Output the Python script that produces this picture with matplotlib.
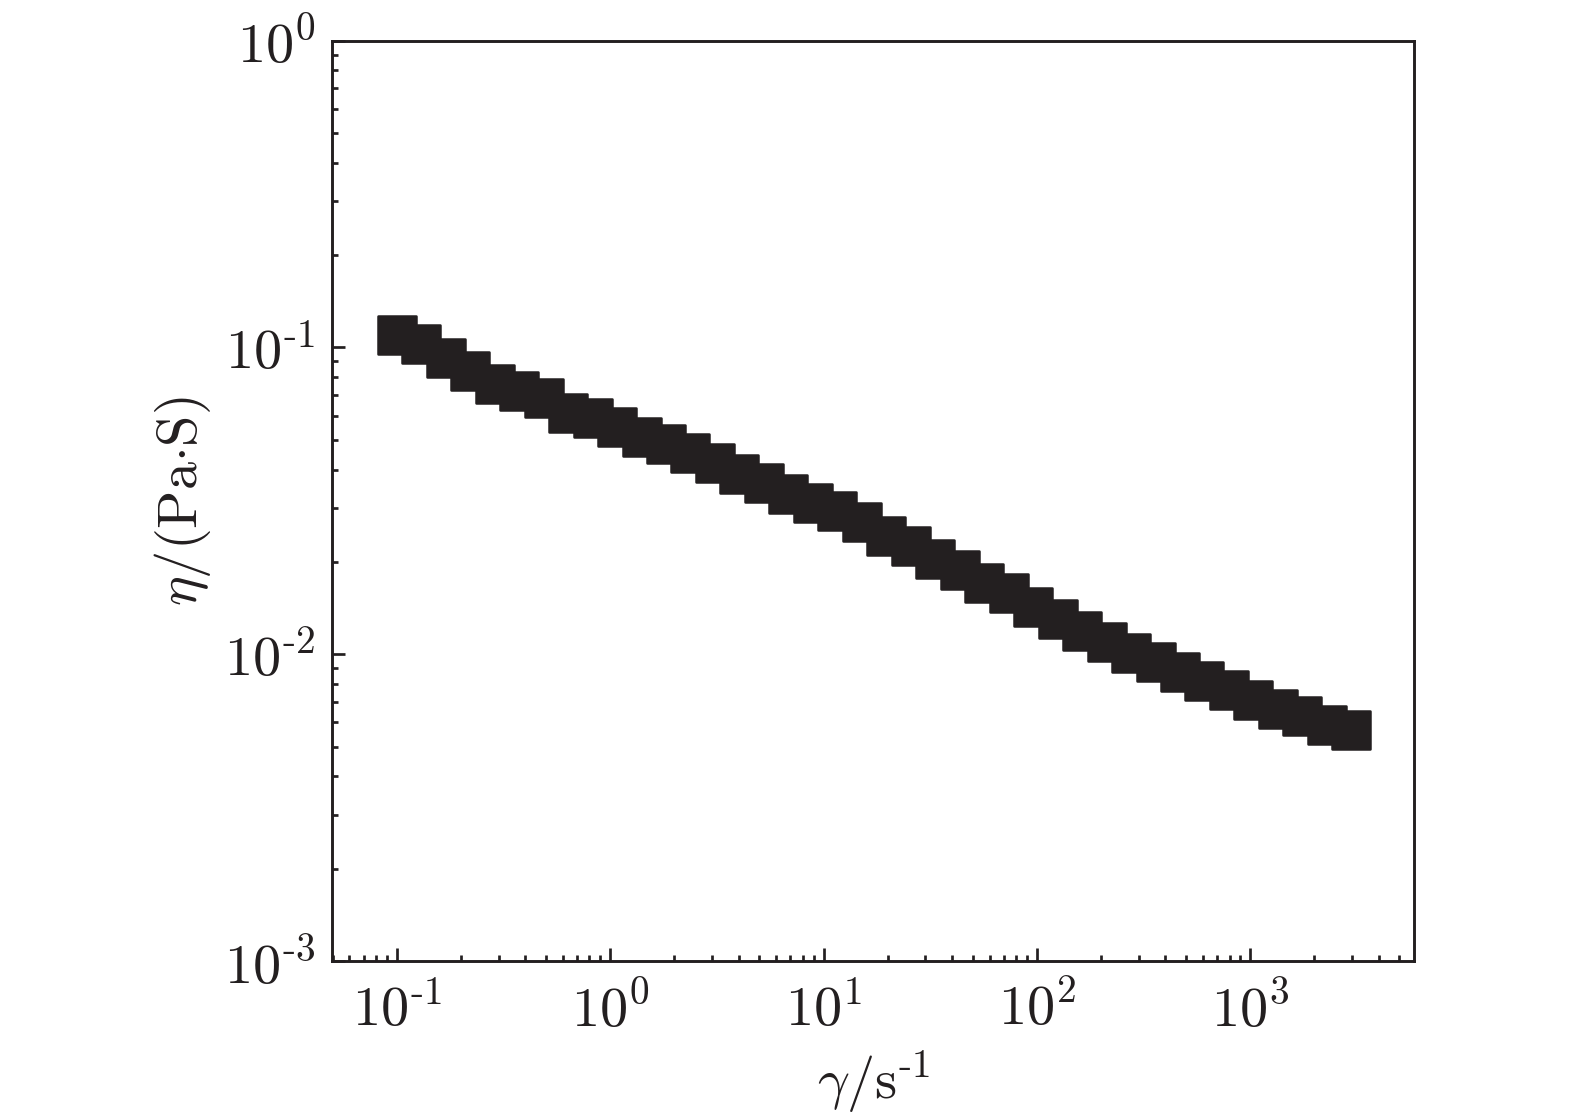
import matplotlib
matplotlib.use("Agg")
import matplotlib.pyplot as plt
from matplotlib.markers import MarkerStyle
from matplotlib.ticker import FuncFormatter, NullFormatter
import numpy as np

# shear rate (1/s) and viscosity (Pa.s)
shear_rate = [0.1, 0.130, 0.170, 0.221, 0.288, 0.375, 0.488, 0.635, 0.827, 1.077,
              1.403, 1.827, 2.379, 3.098, 4.035, 5.254, 6.843, 8.911, 11.6, 15.1,
              19.7, 25.6, 33.4, 43.5, 56.6, 73.7, 96.0, 125.0, 163.0, 212.0,
              276.0, 360.0, 468.0, 610.0, 794.0, 1034.0, 1347.0, 1754.0, 2284.0, 2975.0]
viscosity = [0.1101, 0.1028, 0.0922, 0.0836, 0.0759, 0.0719, 0.0684, 0.0612, 0.0590, 0.0552,
             0.0509, 0.0485, 0.0454, 0.0420, 0.0388, 0.0362, 0.0334, 0.0310, 0.0292, 0.0270,
             0.0242, 0.0226, 0.0205, 0.0188, 0.0171, 0.0158, 0.0143, 0.0130, 0.0119, 0.0110,
             0.0101, 0.00942, 0.00873, 0.00817, 0.00762, 0.00711, 0.00663, 0.00627, 0.00590, 0.00568]

ink = '#231f20'

plt.rcParams['font.family'] = 'serif'
plt.rcParams['font.serif'] = ['cmr10']
plt.rcParams['mathtext.fontset'] = 'cm'
plt.rcParams['axes.formatter.use_mathtext'] = True
plt.rcParams['axes.unicode_minus'] = False


def pow10(v, pos):
    # short hyphen in the exponent, like the original
    e = int(round(np.log10(v)))
    if e < 0:
        return r'$10^{\text{-}%d}$' % (-e)
    return r'$10^{%d}$' % e


fig = plt.figure(figsize=(5.25, 3.7067), dpi=300)
ax = fig.add_axes([0.211, 0.1358, 0.687, 0.8276])

marker = MarkerStyle('s', joinstyle='round')
ax.plot(shear_rate, viscosity, linestyle='none', marker=marker, markersize=9.0,
        markerfacecolor=ink, markeredgecolor=ink, markeredgewidth=0.6)

ax.set_xscale('log')
ax.set_yscale('log')
ax.set_xlim(0.0499, 5875)
ax.set_ylim(1e-3, 1e0)

for axis in (ax.xaxis, ax.yaxis):
    axis.set_major_formatter(FuncFormatter(pow10))
    axis.set_minor_formatter(NullFormatter())

for s in ax.spines.values():
    s.set_linewidth(0.7)
    s.set_color(ink)

ax.tick_params(which='both', direction='in', top=False, right=False,
               color=ink, labelcolor=ink, labelsize=13.5, width=0.65)
ax.tick_params(which='major', length=3.05)
ax.tick_params(which='minor', length=1.45)
ax.tick_params(axis='x', pad=5)
ax.tick_params(axis='y', pad=4)

ax.set_xlabel(r'$\gamma/\mathrm{s}^{\text{-}1}$', fontsize=13.5, color=ink, labelpad=2.5)
ax.set_ylabel(r'$\eta/(\mathrm{Pa{\cdot}S})$', fontsize=13.5, color=ink)
ax.yaxis.set_label_coords(-0.110, 0.5)

fig.savefig('out.png', dpi=300, facecolor='white')
